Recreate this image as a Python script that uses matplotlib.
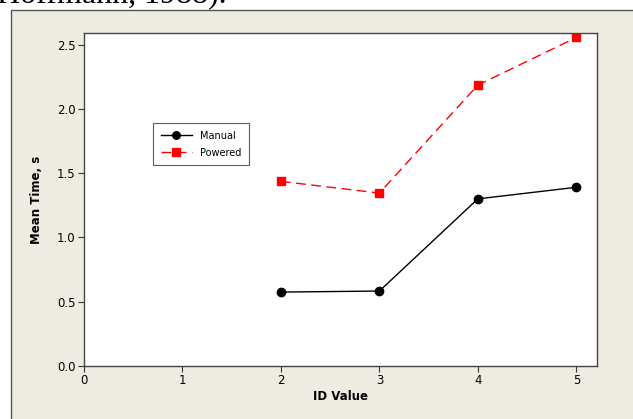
import matplotlib
matplotlib.use("Agg")
import matplotlib.pyplot as plt
from matplotlib.patches import Rectangle

id_values = [2, 3, 4, 5]
manual = [0.575, 0.583, 1.30, 1.39]
powered = [1.436, 1.345, 2.185, 2.555]

fig = plt.figure(figsize=(6.33, 4.19), dpi=100)
fig.patch.set_facecolor("white")

# beige panel behind the chart (runs off the right and bottom edges)
panel = Rectangle((11 / 633, -0.05), 1.1, 1 - 10 / 419 + 0.05,
                  transform=fig.transFigure, facecolor="#eeebe2",
                  edgecolor="#555555", linewidth=1.0, zorder=-1)
fig.add_artist(panel)

# cut-off caption text from the page above the chart
fig.text(-0.005, 1 - 2 / 419, "Hoffmann, 1988).", family="Liberation Serif",
         fontsize=23, va="baseline", ha="left", color="black")

ax = fig.add_axes([84 / 633, 53 / 419, 513 / 633, 333 / 419])
ax.set_zorder(1)
ax.set_facecolor("white")

ax.plot(id_values, manual, color="black", marker="o", markersize=6,
        linewidth=1.0, label="Manual")
ax.plot(id_values, powered, color="red", marker="s", markersize=6,
        linewidth=1.0, linestyle=(0, (7, 4)), label="Powered")

ax.set_xlim(0, 5.21)
ax.set_ylim(0, 2.59)
ax.set_xticks([0, 1, 2, 3, 4, 5])
ax.set_yticks([0.0, 0.5, 1.0, 1.5, 2.0, 2.5])
ax.set_yticklabels(["0.0", "0.5", "1.0", "1.5", "2.0", "2.5"])
ax.tick_params(direction="out", length=4, width=0.8, labelsize=8.5,
               colors="#333333", labelcolor="black", pad=2)
for s in ax.spines.values():
    s.set_color("#444444")
    s.set_linewidth(1.0)

ax.set_xlabel("ID Value", fontsize=8.5, fontweight="bold", labelpad=2)
ax.set_ylabel("Mean Time, s", fontsize=8.5, fontweight="bold", labelpad=10)

leg = ax.legend(loc="upper left", bbox_to_anchor=(153 / 633, 1 - 123 / 419),
                bbox_transform=fig.transFigure, fontsize=7, frameon=True,
                fancybox=False, edgecolor="#333333", handlelength=3.2,
                borderpad=0.8, labelspacing=0.7, markerscale=0.9,
                borderaxespad=0)
leg.get_frame().set_linewidth(0.8)

fig.savefig("out.png", dpi=100)
